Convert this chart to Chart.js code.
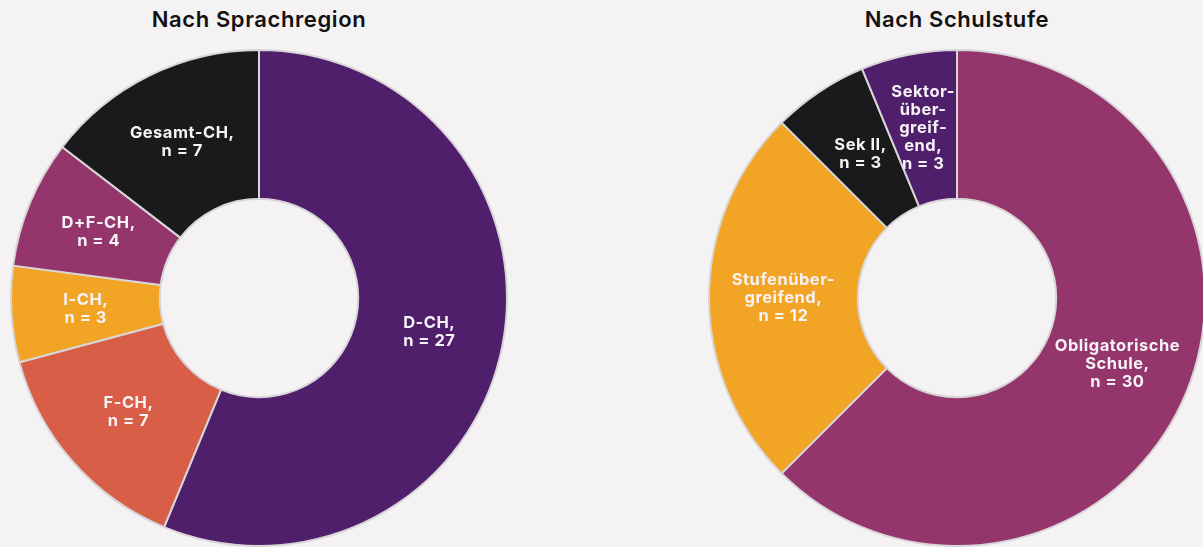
<!DOCTYPE html>
<html lang="de">
<head>
    <meta charset="UTF-8">
    <title>Nach Sprachregion / Nach Schulstufe</title>
    <script src="https://cdn.jsdelivr.net/npm/chart.js"></script>
    <style>
        html, body { margin: 0; padding: 0; background: #f4f2f3; overflow: hidden; }
        body { width: 1203px; height: 547px; position: relative; font-family: Inter, "Noto Sans", sans-serif; }
        .title { position: absolute; top: 6px; width: 400px; text-align: center; font-size: 22px; font-weight: 600; color: #111; letter-spacing: 0.6px; }
        .box { position: absolute; top: 49px; width: 498px; height: 498px; }
    </style>
</head>
<body>
    <div class="title" style="left: 59px;">Nach Sprachregion</div>
    <div class="title" style="left: 757px;">Nach Schulstufe</div>
    <div class="box" style="left: 10px;"><canvas id="regionChart"></canvas></div>
    <div class="box" style="left: 708px;"><canvas id="stufeChart"></canvas></div>

    <script>
        // Nach Sprachregion
        const regionLabels = ['D-CH', 'F-CH', 'I-CH', 'D+F-CH', 'Gesamt-CH'];
        const regionValues = [27, 7, 3, 4, 7];
        const regionText = [['D-CH,', 'n = 27'], ['F-CH,', 'n = 7'], ['I-CH,', 'n = 3'], ['D+F-CH,', 'n = 4'], ['Gesamt-CH,', 'n = 7']];
        const regionColors = ['#4f1f6c', '#d95e48', '#f2a424', '#94366c', '#1a1a1c'];

        // Nach Schulstufe
        const stufeLabels = ['Obligatorische Schule', 'Stufenübergreifend', 'Sek II', 'Sektorübergreifend'];
        const stufeValues = [30, 12, 3, 3];
        const stufeText = [['Obligatorische', 'Schule,', 'n = 30'], ['Stufenüber-', 'greifend,', 'n = 12'], ['Sek II,', 'n = 3'], ['Sektor-', 'über-', 'greif-', 'end,', 'n = 3']];
        const stufeColors = ['#94366c', '#f2a424', '#1a1a1c', '#4f1f6c'];

        const sliceLabels = {
            id: 'sliceLabels',
            afterDatasetsDraw(chart, args, opts) {
                const ctx = chart.ctx;
                const meta = chart.getDatasetMeta(0);
                ctx.save();
                ctx.fillStyle = '#f6f2f6';
                ctx.font = '700 16.5px Inter, "Noto Sans", sans-serif';
                ctx.letterSpacing = '0.5px';
                ctx.textAlign = 'center';
                ctx.textBaseline = 'middle';
                const lh = 18;
                meta.data.forEach((arc, i) => {
                    const pos = arc.tooltipPosition();
                    const lines = opts.lines[i];
                    const y0 = pos.y - (lines.length - 1) * lh / 2;
                    lines.forEach((t, j) => ctx.fillText(t, pos.x, y0 + j * lh));
                });
                ctx.restore();
            }
        };

        function makeDoughnut(id, labels, values, colors, text) {
            return new Chart(document.getElementById(id), {
                type: 'doughnut',
                data: {
                    labels: labels,
                    datasets: [{
                        data: values,
                        backgroundColor: colors,
                        borderColor: '#d8d5d8',
                        borderWidth: 2,
                        hoverOffset: 0
                    }]
                },
                options: {
                    responsive: true,
                    maintainAspectRatio: false,
                    animation: false,
                    cutout: '40%',
                    layout: { padding: 0 },
                    plugins: {
                        legend: { display: false },
                        tooltip: { enabled: false },
                        sliceLabels: { lines: text }
                    }
                },
                plugins: [sliceLabels]
            });
        }

        makeDoughnut('regionChart', regionLabels, regionValues, regionColors, regionText);
        makeDoughnut('stufeChart', stufeLabels, stufeValues, stufeColors, stufeText);
    </script>
</body>
</html>
